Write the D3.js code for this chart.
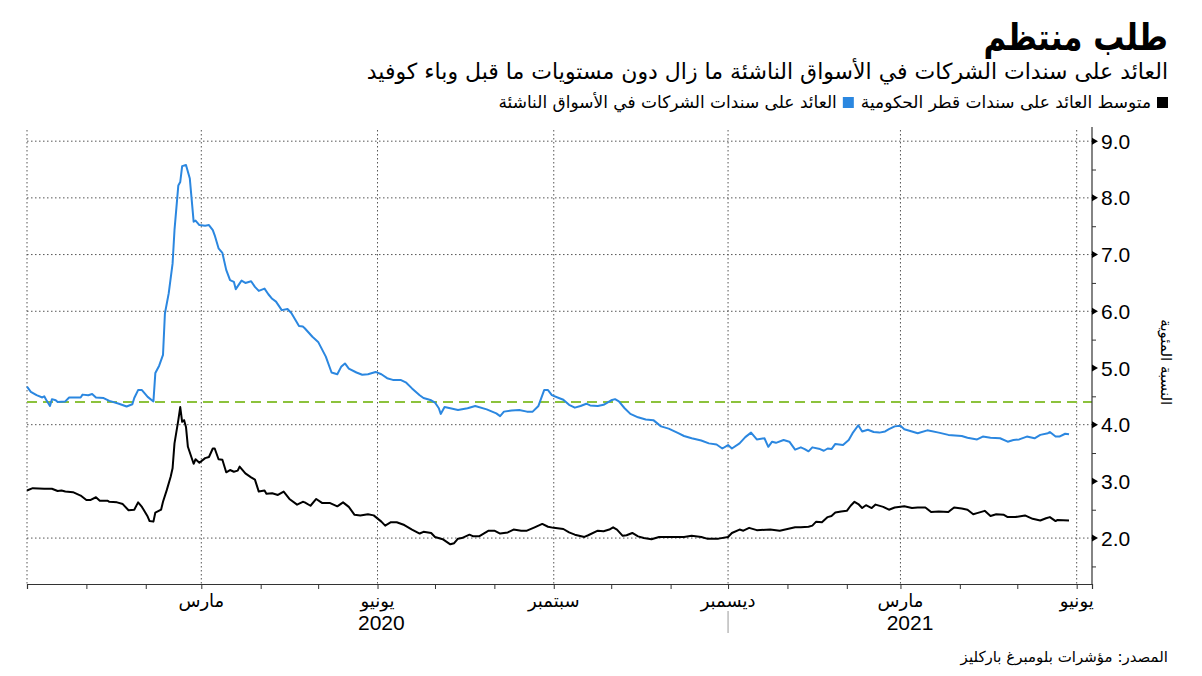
<!DOCTYPE html>
<html><head><meta charset="utf-8">
<script src="https://cdn.jsdelivr.net/npm/d3@7"></script>
<style>body{margin:0;background:#fff}svg{display:block}</style>
</head><body>
<svg id="c" width="1202" height="676"></svg>
<script>
// ---------- data ----------
const title = "طلب منتظم";
const subtitle = "العائد على سندات الشركات في الأسواق الناشئة ما زال دون مستويات ما قبل وباء كوفيد";
const seriesNames = ["متوسط العائد على سندات قطر الحكومية", "العائد على سندات الشركات في الأسواق الناشئة"];
const yAxisTitle = "النسبة المئوية";
const sourceText = "المصدر: مؤشرات بلومبرغ باركليز";

const xDomain = ["2019-12-01", "2021-06-09"];
const yDomain = [1.19, 9.25];
const yTickValues = [2, 3, 4, 5, 6, 7, 8, 9];
const yTickLabels = ["2.0", "3.0", "4.0", "5.0", "6.0", "7.0", "8.0", "9.0"];
const yMinorTicks = [1.5, 2.5, 3.5, 4.5, 5.5, 6.5, 7.5, 8.5];
const yGridValues = [2, 4, 6, 7, 8, 9];
const quarterDates = ["2019-12-01", "2020-03-01", "2020-06-01", "2020-09-01", "2020-12-01", "2021-03-01", "2021-06-01"];
const monthTickDates = ["2020-03-01", "2020-06-01", "2020-09-01", "2020-12-01", "2021-03-01", "2021-06-01"];
const monthTickLabels = ["مارس", "يونيو", "سبتمبر", "ديسمبر", "مارس", "يونيو"];
const yearLabels = ["2020", "2021"];
const yearLabelDates = ["2020-06-03", "2021-03-06"];
const yearBreakDate = "2020-12-01";
const preCovidLevel = 4.4;

const emDates = ["2019-12-01","2019-12-03","2019-12-06","2019-12-09","2019-12-10","2019-12-11","2019-12-13","2019-12-14","2019-12-16","2019-12-17","2019-12-21","2019-12-23","2019-12-29","2019-12-30","2020-01-02","2020-01-04","2020-01-06","2020-01-10","2020-01-13","2020-01-18","2020-01-22","2020-01-25","2020-01-26","2020-01-28","2020-01-30","2020-02-02","2020-02-05","2020-02-06","2020-02-08","2020-02-10","2020-02-11","2020-02-13","2020-02-15","2020-02-16","2020-02-18","2020-02-19","2020-02-20","2020-02-22","2020-02-24","2020-02-25","2020-02-26","2020-02-27","2020-02-29","2020-03-03","2020-03-05","2020-03-07","2020-03-08","2020-03-10","2020-03-12","2020-03-14","2020-03-16","2020-03-18","2020-03-19","2020-03-22","2020-03-24","2020-03-27","2020-03-29","2020-03-31","2020-04-03","2020-04-05","2020-04-07","2020-04-09","2020-04-12","2020-04-15","2020-04-17","2020-04-21","2020-04-23","2020-04-24","2020-04-28","2020-05-01","2020-05-05","2020-05-08","2020-05-11","2020-05-13","2020-05-15","2020-05-17","2020-05-21","2020-05-24","2020-05-27","2020-05-31","2020-06-03","2020-06-06","2020-06-09","2020-06-13","2020-06-16","2020-06-19","2020-06-23","2020-06-25","2020-06-29","2020-07-01","2020-07-03","2020-07-04","2020-07-06","2020-07-09","2020-07-13","2020-07-18","2020-07-22","2020-07-28","2020-08-02","2020-08-04","2020-08-06","2020-08-10","2020-08-14","2020-08-18","2020-08-21","2020-08-24","2020-08-27","2020-08-29","2020-08-31","2020-09-03","2020-09-06","2020-09-09","2020-09-12","2020-09-15","2020-09-18","2020-09-20","2020-09-24","2020-09-27","2020-10-01","2020-10-03","2020-10-05","2020-10-08","2020-10-11","2020-10-15","2020-10-19","2020-10-23","2020-10-27","2020-10-31","2020-11-05","2020-11-08","2020-11-12","2020-11-17","2020-11-21","2020-11-25","2020-11-28","2020-12-01","2020-12-03","2020-12-07","2020-12-10","2020-12-13","2020-12-16","2020-12-20","2020-12-22","2020-12-24","2020-12-26","2020-12-30","2021-01-02","2021-01-05","2021-01-08","2021-01-10","2021-01-12","2021-01-14","2021-01-18","2021-01-20","2021-01-22","2021-01-24","2021-01-26","2021-01-30","2021-02-02","2021-02-04","2021-02-07","2021-02-09","2021-02-12","2021-02-15","2021-02-18","2021-02-21","2021-02-23","2021-02-26","2021-03-01","2021-03-03","2021-03-07","2021-03-10","2021-03-15","2021-03-21","2021-03-26","2021-04-02","2021-04-05","2021-04-10","2021-04-13","2021-04-17","2021-04-22","2021-04-26","2021-04-29","2021-05-02","2021-05-06","2021-05-10","2021-05-13","2021-05-17","2021-05-18","2021-05-21","2021-05-23","2021-05-26","2021-05-28"];
const emValues = [4.67,4.58,4.52,4.48,4.50,4.44,4.33,4.45,4.43,4.40,4.41,4.48,4.48,4.53,4.52,4.54,4.48,4.47,4.42,4.37,4.32,4.36,4.47,4.61,4.61,4.49,4.41,4.91,5.04,5.23,5.96,6.32,6.84,7.43,8.22,8.28,8.56,8.58,8.34,7.96,7.58,7.60,7.52,7.51,7.52,7.43,7.34,7.11,7.03,6.73,6.55,6.52,6.39,6.54,6.50,6.53,6.43,6.36,6.40,6.30,6.22,6.17,6.02,6.04,5.97,5.74,5.73,5.70,5.55,5.46,5.20,4.92,4.89,5.02,5.08,4.99,4.92,4.88,4.89,4.93,4.89,4.82,4.79,4.79,4.74,4.64,4.52,4.47,4.43,4.39,4.29,4.19,4.31,4.29,4.26,4.29,4.33,4.27,4.20,4.15,4.23,4.25,4.26,4.23,4.23,4.33,4.61,4.61,4.52,4.48,4.44,4.35,4.30,4.33,4.37,4.34,4.33,4.35,4.43,4.45,4.41,4.29,4.19,4.13,4.09,4.08,3.97,3.93,3.85,3.80,3.76,3.72,3.67,3.65,3.58,3.64,3.58,3.67,3.78,3.86,3.74,3.76,3.61,3.70,3.68,3.73,3.70,3.56,3.60,3.57,3.53,3.60,3.57,3.54,3.58,3.57,3.66,3.64,3.73,3.85,3.99,3.88,3.91,3.87,3.86,3.88,3.92,3.97,3.98,3.92,3.88,3.85,3.90,3.86,3.82,3.80,3.77,3.74,3.79,3.77,3.76,3.70,3.73,3.74,3.79,3.76,3.82,3.85,3.87,3.79,3.79,3.84,3.83];

const qatarDates = ["2019-12-01","2019-12-04","2019-12-10","2019-12-14","2019-12-17","2019-12-19","2019-12-21","2019-12-25","2019-12-29","2020-01-01","2020-01-03","2020-01-06","2020-01-08","2020-01-12","2020-01-13","2020-01-17","2020-01-20","2020-01-23","2020-01-26","2020-01-28","2020-01-30","2020-02-02","2020-02-03","2020-02-05","2020-02-06","2020-02-09","2020-02-10","2020-02-12","2020-02-14","2020-02-15","2020-02-16","2020-02-18","2020-02-19","2020-02-20","2020-02-21","2020-02-22","2020-02-23","2020-02-26","2020-02-27","2020-02-29","2020-03-03","2020-03-05","2020-03-07","2020-03-08","2020-03-10","2020-03-12","2020-03-14","2020-03-16","2020-03-18","2020-03-20","2020-03-21","2020-03-24","2020-03-27","2020-03-29","2020-03-31","2020-04-03","2020-04-04","2020-04-07","2020-04-10","2020-04-13","2020-04-16","2020-04-20","2020-04-23","2020-04-24","2020-04-27","2020-04-30","2020-05-03","2020-05-07","2020-05-11","2020-05-14","2020-05-17","2020-05-20","2020-05-23","2020-05-27","2020-05-30","2020-06-03","2020-06-05","2020-06-08","2020-06-11","2020-06-15","2020-06-19","2020-06-23","2020-06-25","2020-06-29","2020-07-01","2020-07-05","2020-07-09","2020-07-11","2020-07-13","2020-07-15","2020-07-19","2020-07-21","2020-07-24","2020-07-29","2020-08-01","2020-08-04","2020-08-08","2020-08-11","2020-08-15","2020-08-18","2020-08-22","2020-08-26","2020-08-29","2020-09-01","2020-09-06","2020-09-09","2020-09-12","2020-09-17","2020-09-19","2020-09-24","2020-09-27","2020-09-30","2020-10-02","2020-10-04","2020-10-07","2020-10-09","2020-10-12","2020-10-15","2020-10-18","2020-10-22","2020-10-26","2020-11-01","2020-11-08","2020-11-12","2020-11-17","2020-11-20","2020-11-26","2020-12-01","2020-12-03","2020-12-07","2020-12-09","2020-12-12","2020-12-16","2020-12-23","2020-12-28","2021-01-01","2021-01-05","2021-01-08","2021-01-12","2021-01-14","2021-01-16","2021-01-19","2021-01-22","2021-01-24","2021-01-26","2021-01-29","2021-02-01","2021-02-03","2021-02-05","2021-02-07","2021-02-09","2021-02-11","2021-02-14","2021-02-16","2021-02-20","2021-02-23","2021-02-26","2021-03-03","2021-03-07","2021-03-10","2021-03-14","2021-03-17","2021-03-21","2021-03-26","2021-03-29","2021-04-02","2021-04-05","2021-04-08","2021-04-10","2021-04-14","2021-04-17","2021-04-20","2021-04-24","2021-04-26","2021-04-30","2021-05-05","2021-05-09","2021-05-13","2021-05-16","2021-05-18","2021-05-21","2021-05-22","2021-05-28"];
const qatarValues = [2.84,2.88,2.87,2.87,2.83,2.84,2.82,2.81,2.75,2.67,2.67,2.72,2.66,2.66,2.64,2.63,2.60,2.49,2.50,2.63,2.55,2.38,2.30,2.29,2.45,2.50,2.64,2.85,3.08,3.23,3.67,4.08,4.31,4.05,4.08,3.96,3.61,3.31,3.39,3.33,3.41,3.43,3.58,3.58,3.39,3.38,3.16,3.20,3.17,3.19,3.26,3.14,3.07,3.03,2.82,2.84,2.78,2.79,2.76,2.82,2.69,2.59,2.64,2.63,2.57,2.69,2.62,2.62,2.56,2.63,2.55,2.41,2.40,2.42,2.40,2.29,2.22,2.28,2.28,2.23,2.15,2.08,2.11,2.09,2.02,1.98,1.89,1.91,1.99,2.00,2.06,2.03,2.03,2.13,2.13,2.08,2.10,2.15,2.13,2.13,2.19,2.25,2.20,2.18,2.16,2.10,2.06,2.02,2.05,2.13,2.12,2.15,2.19,2.15,2.04,2.05,2.09,2.03,2.00,1.98,2.02,2.02,2.02,2.04,2.02,1.99,1.99,2.02,2.09,2.15,2.13,2.18,2.14,2.15,2.13,2.16,2.19,2.19,2.20,2.22,2.29,2.28,2.37,2.39,2.45,2.47,2.48,2.57,2.64,2.60,2.53,2.58,2.53,2.59,2.55,2.50,2.54,2.56,2.53,2.54,2.54,2.46,2.47,2.46,2.54,2.52,2.50,2.42,2.44,2.48,2.39,2.42,2.41,2.37,2.37,2.40,2.34,2.31,2.35,2.37,2.30,2.32,2.31];

// ---------- chart ----------
const svg = d3.select("#c");
const AR = "'DejaVu Sans', sans-serif";
const NUM = "'Liberation Sans', Arial, sans-serif";
const parse = d3.utcParse("%Y-%m-%d");
const L = 27, R = 1092, T = 127, B = 584;

const x = d3.scaleUtc().domain(xDomain.map(parse)).range([L, R]);
const y = d3.scaleLinear().domain(yDomain).range([B, T]);

// grid
const grid = svg.append("g");
grid.selectAll("line.h").data(yGridValues).join("line")
  .attr("x1", L).attr("x2", R).attr("y1", d => y(d)).attr("y2", d => y(d))
  .attr("stroke", "#555").attr("stroke-width", 1).attr("stroke-dasharray", "1.5,2.5");
grid.selectAll("line.v").data(quarterDates).join("line")
  .attr("x1", d => x(parse(d))).attr("x2", d => x(parse(d)))
  .attr("y1", T + 3).attr("y2", B)
  .attr("stroke", "#555").attr("stroke-width", 1).attr("stroke-dasharray", "1.5,2.5");

// pre-covid reference
svg.append("line")
  .attr("x1", L).attr("x2", R).attr("y1", y(preCovidLevel)).attr("y2", y(preCovidLevel))
  .attr("stroke", "#8cc23c").attr("stroke-width", 2).attr("stroke-dasharray", "10,6");

// lines
const lineGen = (dates, vals) => d3.line().x((d, i) => x(parse(dates[i]))).y(d => y(d))(vals);
svg.append("path").attr("d", lineGen(emDates, emValues))
  .attr("fill", "none").attr("stroke", "#2b87e0").attr("stroke-width", 2).attr("stroke-linejoin", "round");
svg.append("path").attr("d", lineGen(qatarDates, qatarValues))
  .attr("fill", "none").attr("stroke", "#000").attr("stroke-width", 2).attr("stroke-linejoin", "round");

// x axis
const xAxis = d3.axisBottom(x).ticks(d3.utcMonth.every(1)).tickSize(5).tickFormat("");
const gx = svg.append("g").attr("transform", `translate(0,${B})`).call(xAxis);
gx.select(".domain").attr("stroke", "#333").attr("stroke-width", 1.2);
gx.selectAll(".tick line").attr("stroke", "#333");
svg.append("g").selectAll("text").data(monthTickDates).join("text")
  .attr("x", d => x(parse(d))).attr("y", 607)
  .attr("text-anchor", "middle").attr("font-family", AR).attr("font-size", 18).attr("fill", "#000")
  .text((d, i) => monthTickLabels[i]);
svg.append("g").selectAll("text").data(yearLabelDates).join("text")
  .attr("x", d => x(parse(d))).attr("y", 630)
  .attr("text-anchor", "middle").attr("font-family", NUM).attr("font-size", 21).attr("fill", "#000")
  .text((d, i) => yearLabels[i]);
svg.append("line").attr("x1", x(parse(yearBreakDate))).attr("x2", x(parse(yearBreakDate)))
  .attr("y1", 611).attr("y2", 633).attr("stroke", "#999").attr("stroke-width", 1);

// y axis (right)
const yAxis = d3.axisRight(y).tickValues(yMinorTicks).tickSize(4).tickFormat("");
const gy = svg.append("g").attr("transform", `translate(${R},0)`).call(yAxis);
gy.select(".domain").attr("stroke", "#333").attr("stroke-width", 1.2).attr("d", `M0,${B}V${T}`);
gy.selectAll(".tick line").attr("stroke", "#333");
const yt = svg.append("g").selectAll("g").data(yTickValues).join("g")
  .attr("transform", d => `translate(${R},${y(d)})`);
yt.append("path").attr("d", "M0,-3.5L6,0L0,3.5Z").attr("fill", "#000");
yt.append("text").attr("x", 9).attr("dy", "0.36em")
  .attr("font-family", NUM).attr("font-size", 21).attr("fill", "#000")
  .text((d, i) => yTickLabels[i]);
svg.append("text")
  .attr("transform", `translate(1161,${y(5.1)}) rotate(90)`)
  .attr("text-anchor", "middle").attr("font-family", AR).attr("font-size", 15).attr("fill", "#000")
  .text(yAxisTitle);

// titles
svg.append("text").attr("x", 1168).attr("y", 50).attr("text-anchor", "end")
  .attr("font-family", AR).attr("font-weight", "bold").attr("font-size", 31).attr("fill", "#000")
  .attr("transform", "translate(0,-10) scale(1,1.2)").text(title);
svg.append("text").attr("x", 1168).attr("y", 79).attr("text-anchor", "end")
  .attr("font-family", AR).attr("font-size", 22).attr("fill", "#000").text(subtitle);

// legend
const legColors = ["#000", "#2b87e0"];
let lx = 1168;
const leg = svg.append("g");
seriesNames.forEach((name, i) => {
  leg.append("rect").attr("x", lx - 11).attr("y", 97).attr("width", 11).attr("height", 11).attr("fill", legColors[i]);
  const t = leg.append("text").attr("x", lx - 17).attr("y", 108).attr("text-anchor", "end")
    .attr("font-family", AR).attr("font-size", 17).attr("fill", "#000").text(name);
  lx = lx - 17 - t.node().getComputedTextLength() - 7;
});

// source
svg.append("text").attr("x", 1168).attr("y", 662).attr("text-anchor", "end")
  .attr("font-family", AR).attr("font-size", 15).attr("fill", "#000").text(sourceText);
</script>
</body></html>
